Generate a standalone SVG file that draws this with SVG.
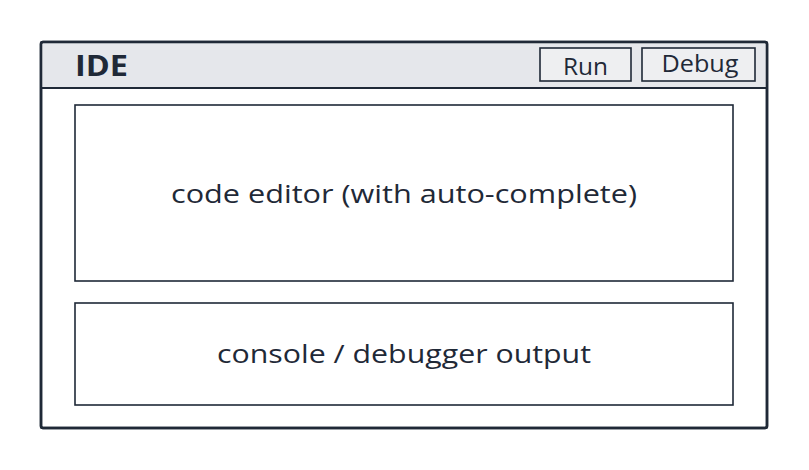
<svg xmlns="http://www.w3.org/2000/svg" width="809" height="470" viewBox="0 0 809 470">
<style>
.t{font-family:"Open Sans","Liberation Sans",sans-serif;fill:#1f2937}
.box{fill:#ffffff;stroke:#1f2937;stroke-width:1.6}
.btn{fill:#eeeff1;stroke:#1f2937;stroke-width:1.6}
</style>
<rect width="809" height="470" fill="#ffffff"/>
<g id="ide">
<rect x="41" y="42" width="726" height="386" rx="2" fill="#ffffff" stroke="#1f2937" stroke-width="2.5"/>
<path d="M42.3 88 V44 Q42.3 43.3 44 43.3 H764 Q765.7 43.3 765.7 44 V88 Z" fill="#e5e7eb"/>
<line x1="41" y1="88" x2="767" y2="88" stroke="#1f2937" stroke-width="2"/>
<rect x="41" y="42" width="726" height="386" rx="2" fill="none" stroke="#1f2937" stroke-width="2.5"/>
<text class="t" x="75" y="76" font-size="29" font-weight="bold" textLength="53" lengthAdjust="spacingAndGlyphs">IDE</text>
</g>
<g id="run">
<rect class="btn" x="540" y="48" width="91" height="33"/>
<text class="t" x="585.5" y="75" font-size="24" text-anchor="middle" textLength="45" lengthAdjust="spacingAndGlyphs">Run</text>
</g>
<g id="debug">
<rect class="btn" x="642" y="48" width="113" height="33"/>
<text class="t" x="700" y="72" font-size="24" text-anchor="middle" textLength="77" lengthAdjust="spacingAndGlyphs">Debug</text>
</g>
<g id="editor">
<rect class="box" x="75" y="105" width="658" height="176"/>
<text class="t" x="404" y="203" font-size="25" text-anchor="middle" textLength="466" lengthAdjust="spacingAndGlyphs">code editor (with auto-complete)</text>
</g>
<g id="console">
<rect class="box" x="75" y="303" width="658" height="102"/>
<text class="t" x="404" y="363" font-size="25" text-anchor="middle" textLength="374" lengthAdjust="spacingAndGlyphs">console / debugger output</text>
</g>
<g id="connectors"></g>
</svg>
